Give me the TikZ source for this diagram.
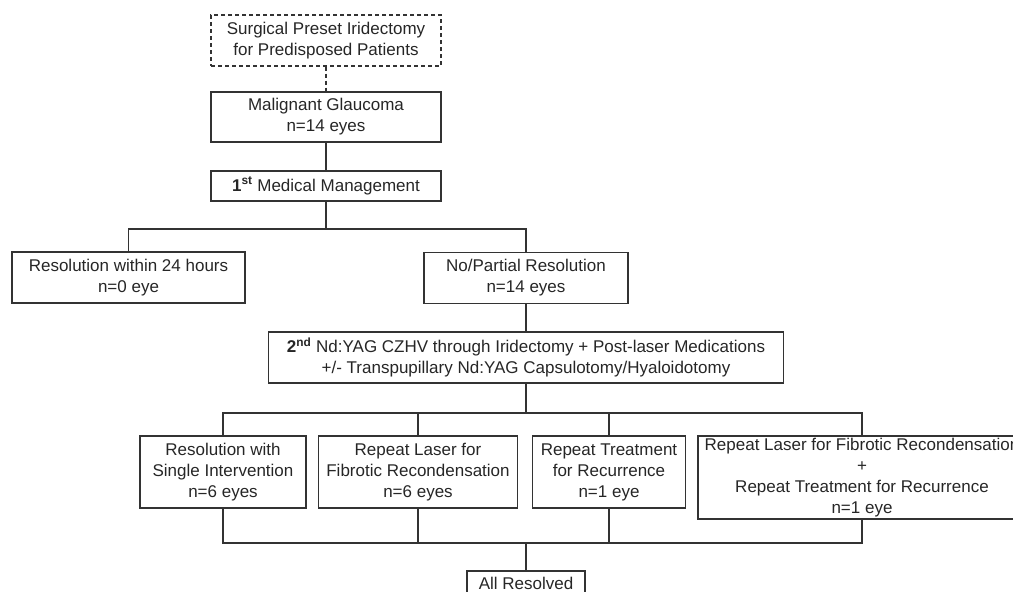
\documentclass[tikz,border=0pt]{standalone}
\usepackage{fontspec}
\setmainfont{Liberation Sans}
\usetikzlibrary{positioning}

\begin{document}
\begin{tikzpicture}[
  x=1pt, y=-1pt,
  font=\fontsize{17}{21}\selectfont,
  box/.style={draw=black!80, line width=1.1pt, align=center, inner sep=0pt,
              text=black!85},
  opt/.style={box, dash pattern=on 4pt off 3pt},
  link/.style={draw=black!80, line width=1.3pt}
]
\useasboundingbox (0,0) rectangle (1013,592);
\clip (0,0) rectangle (1013,592);

% top column
\node[opt, minimum width=230pt, minimum height=51pt] (pre) at (326,40.5)
  {Surgical Preset Iridectomy\\for Predisposed Patients};
\node[box, minimum width=230pt, minimum height=50pt] (mg) at (326,117)
  {Malignant Glaucoma\\n=14 eyes};
\node[box, minimum width=230pt, minimum height=30pt] (med1) at (326,186)
  {\textbf{1}\textsuperscript{\textbf{st}} Medical Management};

% first outcome
\node[box, minimum width=233pt, minimum height=51pt] (r24) at (128.5,277.5)
  {Resolution within 24 hours\\n=0 eye};
\node[box, minimum width=204pt, minimum height=51pt] (npr) at (526,278)
  {No/Partial Resolution\\n=14 eyes};
\node[box, minimum width=515pt, minimum height=51pt] (yag) at (526,357.5)
  {\textbf{2\textsuperscript{nd}} Nd:YAG CZHV through Iridectomy + Post-laser Medications\\
   +/- Transpupillary Nd:YAG Capsulotomy/Hyaloidotomy};

% second outcome
\node[box, minimum width=166pt, minimum height=72pt] (single) at (223,472)
  {Resolution with\\Single Intervention\\n=6 eyes};
\node[box, minimum width=199pt, minimum height=72pt] (fib) at (418,472)
  {Repeat Laser for\\Fibrotic Recondensation\\n=6 eyes};
\node[box, minimum width=153pt, minimum height=72pt] (rec) at (609,472)
  {Repeat Treatment\\for Recurrence\\n=1 eye};
\node[box, minimum width=328pt, minimum height=83pt] (both) at (862,477.5)
  {Repeat Laser for Fibrotic Recondensation\\+\\Repeat Treatment for Recurrence\\n=1 eye};
\node[box, minimum width=118pt, minimum height=24pt] (done) at (526,583)
  {All Resolved};

\coordinate (b1) at (326,229);
\coordinate (b2) at (526,413);
\coordinate (b3) at (526,543);

\draw[link, dash pattern=on 4pt off 3pt] (pre) -- (mg);
\draw[link] (mg) -- (med1);
\draw[link] (med1) -- (b1);
\draw[link] (r24.north) |- (b1) -| (npr.north);
\draw[link] (npr) -- (yag);
\draw[link] (yag) -- (b2);
\draw[link] (single.north) |- (b2) -| (both.north);
\draw[link] (fib.north) -- (fib.north |- b2);
\draw[link] (rec.north) -- (rec.north |- b2);
\draw[link] (single.south) |- (b3) -| (both.south);
\draw[link] (fib.south) -- (fib.south |- b3);
\draw[link] (rec.south) -- (rec.south |- b3);
\draw[link] (b3) -- (done);
\end{tikzpicture}
\end{document}
